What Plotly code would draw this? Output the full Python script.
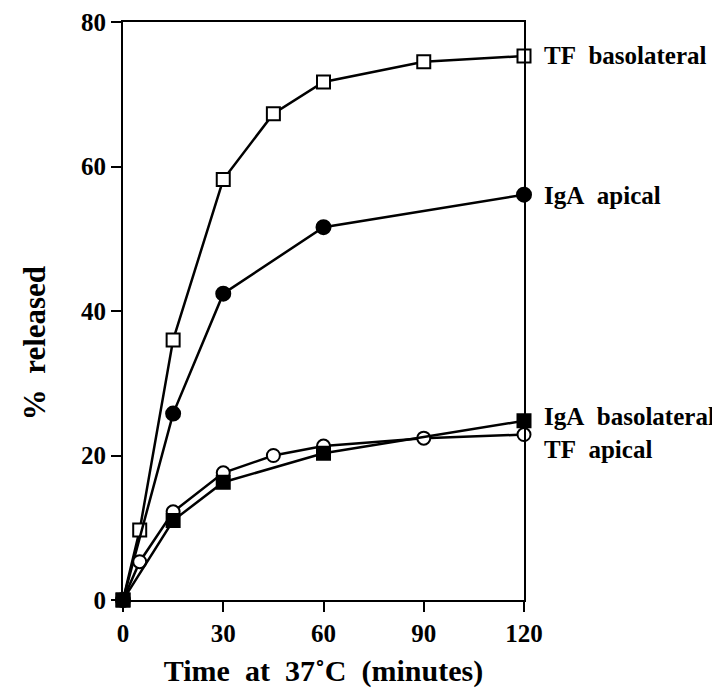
import plotly.graph_objects as go

# ---- data ----
time_tf_baso = [0, 5, 15, 30, 45, 60, 90, 120]
tf_baso = [0, 9.7, 36.0, 58.2, 67.3, 71.7, 74.5, 75.3]

time_iga_api = [0, 15, 30, 60, 120]
iga_api = [0, 25.8, 42.4, 51.6, 56.1]

time_tf_api = [0, 5, 15, 30, 45, 60, 90, 120]
tf_api = [0, 5.3, 12.2, 17.6, 20.0, 21.3, 22.4, 22.9]

time_iga_baso = [0, 15, 30, 60, 120]
iga_baso = [0, 11.0, 16.3, 20.3, 24.8]

x_ticks = [0, 30, 60, 90, 120]
y_ticks = [0, 20, 40, 60, 80]

label_texts = ["TF  basolateral", "IgA  apical", "IgA  basolateral", "TF  apical"]
label_y = [75.3, 56.0, 25.4, 20.9]

FONT = "Liberation Serif"

fig = go.Figure()

def add(xs, ys, symbol, fill, size):
    fig.add_trace(go.Scatter(
        x=xs, y=ys, mode="lines+markers",
        line=dict(color="black", width=2.5),
        marker=dict(symbol=symbol, size=size, color=fill,
                    line=dict(color="black", width=2)),
        cliponaxis=False, showlegend=False, hoverinfo="x+y"))

add(time_tf_baso, tf_baso, "square", "white", 13)
add(time_iga_api, iga_api, "circle", "black", 14)
add(time_tf_api, tf_api, "circle", "white", 13)
add(time_iga_baso, iga_baso, "square", "black", 13)

for txt, yv in zip(label_texts, label_y):
    fig.add_annotation(x=1.045, xref="paper", y=yv, yref="y",
                       text="<b>%s</b>" % txt.replace("  ", "&nbsp; "),
                       showarrow=False, xanchor="left", yanchor="middle",
                       font=dict(family=FONT, size=25, color="black"))

# y-axis title (placed as text, slightly below the plot centre as in the reference)
fig.add_annotation(x=-0.22, xref="paper", y=35.5, yref="y",
                   text="<b>%&nbsp; released</b>", textangle=-90,
                   showarrow=False, xanchor="center", yanchor="middle",
                   font=dict(family=FONT, size=31, color="black"))

axis_common = dict(showline=True, linecolor="black", linewidth=2, mirror=True,
                   ticks="outside", ticklen=10, tickwidth=2, tickcolor="black",
                   showgrid=False, zeroline=False,
                   tickfont=dict(family=FONT, size=25, color="black"))

fig.update_xaxes(range=[0, 120], tickvals=x_ticks,
                 ticktext=["<b>%d</b>" % v for v in x_ticks],
                 title=dict(text="<b>Time&nbsp; at&nbsp; 37˚C&nbsp; (minutes)</b>",
                            font=dict(family=FONT, size=30, color="black"), standoff=14),
                 **axis_common)
fig.update_yaxes(range=[0, 80], tickvals=y_ticks,
                 ticktext=["<b>%d</b>" % v for v in y_ticks],
                 **axis_common)

fig.update_layout(width=720, height=694,
                  margin=dict(l=115, r=204, t=14, b=102, autoexpand=False),
                  plot_bgcolor="white", paper_bgcolor="white")

fig.write_html("out.html")
